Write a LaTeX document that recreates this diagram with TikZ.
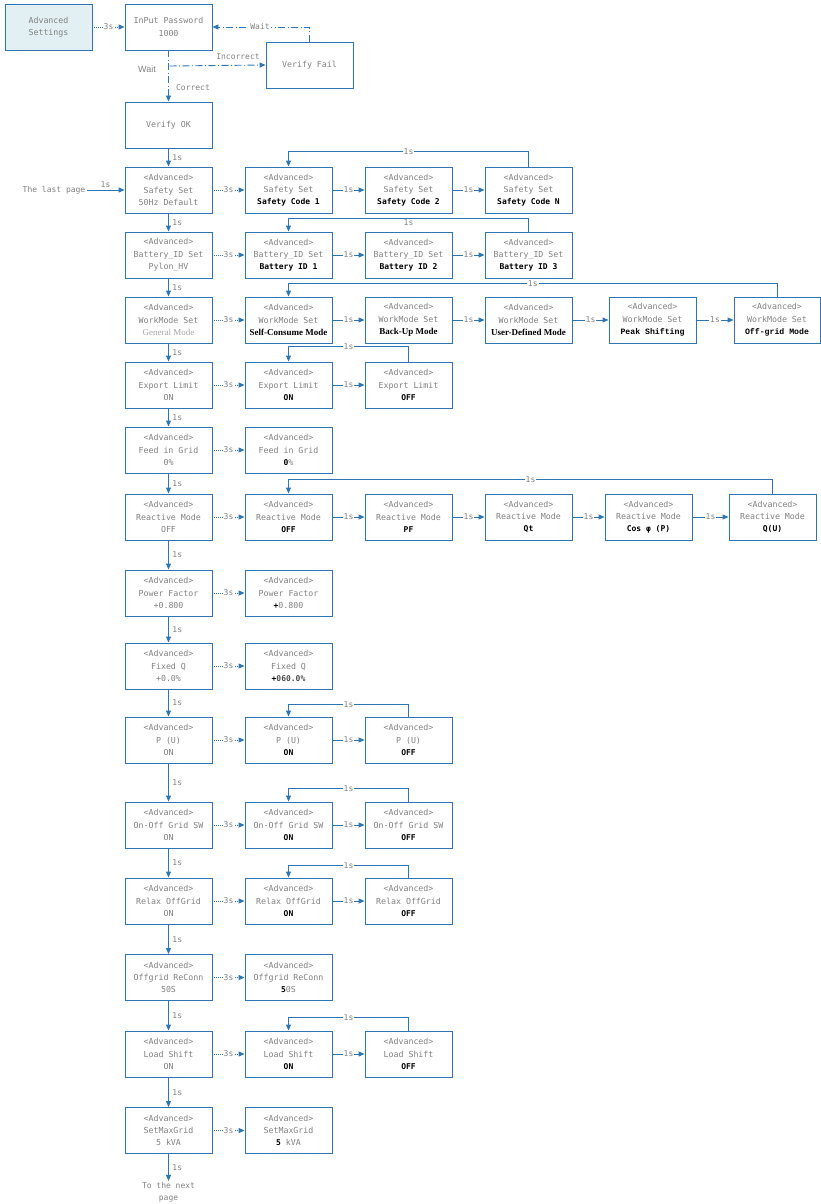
\documentclass[tikz,border=0pt]{standalone}
\usepackage{fontspec}
\setmainfont{DejaVu Sans Mono}
\newfontfamily\monof{DejaVu Sans Mono}
\newfontfamily\lmono{Liberation Mono}
\newfontfamily\serifb{Liberation Serif}
\newfontfamily\sansf{Liberation Sans}
\usetikzlibrary{arrows.meta,calc}
\definecolor{lblue}{RGB}{46,117,182}
\definecolor{tgray}{RGB}{128,128,128}
\definecolor{fillc}{RGB}{226,240,243}
\newcommand{\adv}{<Advanced>}
\newcommand{\bv}[1]{{\color{black}\monof\bfseries\fontsize{8}{12.3}\selectfont #1}}
\newcommand{\lv}[1]{{\color{black}\lmono\bfseries\fontsize{8.2}{12.3}\selectfont #1}}
\newcommand{\sv}[1]{{\color{black}\serifb\bfseries\fontsize{9}{12.3}\selectfont #1}}
\begin{document}
\begin{tikzpicture}[x=1pt,y=-1pt,
  box/.style={draw=lblue, line width=0.9pt, minimum width=87pt, minimum height=46pt, inner sep=0pt, align=center, text=tgray, font=\monof\fontsize{8.3}{12.3}\selectfont},
  conn/.style={draw=lblue, line width=0.9pt, -{Triangle[length=6pt,width=5pt]}},
  dconn/.style={conn, densely dotted},
  ddconn/.style={conn, dash pattern=on 7pt off 2.5pt on 1pt off 2.5pt},
  lbl/.style={fill=white, inner sep=1pt, text=tgray, font=\monof\fontsize{8}{9}\selectfont},
  rl/.style={anchor=west, inner sep=1pt, text=tgray, font=\monof\fontsize{8}{9}\selectfont},
  plain/.style={inner sep=1pt, text=tgray, font=\monof\fontsize{8}{12}\selectfont, align=center}]
\useasboundingbox (0,0) rectangle (821,1204);

% --- password section
\node[box, fill=fillc] (as) at (48.5,27) {Advanced\\Settings};
\node[box] (pw) at (168.5,27) {InPut Password\\1000};
\node[box] (vf) at (309.5,65) {Verify Fail};
\node[box] (ok) at (168.5,125) {Verify OK};
\coordinate (br) at (169.5,66);
\draw[dconn] (as) -- node[lbl]{3s} (pw);
\draw[ddconn] (pw.south) -- (ok.north);
\draw[ddconn] (br) -- (vf.west);
\node[plain] (incl) at (238,57) {Incorrect};
\draw[ddconn] (vf.north) |- node[pos=0.755, lbl]{Wait} (pw.east);
\node[inner sep=0pt, text=tgray, font=\sansf\fontsize{9}{10}\selectfont] (waitl) at (147,69) {Wait};
\node[plain] (corr) at (193,88) {Correct};

% --- main column
\node[box] (s0) at (168.5,190) {\adv\\Safety Set\\50Hz Default};
\node[box] (b0) at (168.5,255) {\adv\\Battery\_ID Set\\Pylon\_HV};
\node[box] (w0) at (168.5,320) {\adv\\WorkMode Set\\{\serifb\color{tgray!70}\fontsize{9}{12.3}\selectfont General Mode}};
\node[box] (e0) at (168.5,385) {\adv\\Export Limit\\ON};
\node[box] (f0) at (168.5,450) {\adv\\Feed in Grid\\0\%};
\node[box] (q0) at (168.5,517) {\adv\\Reactive Mode\\OFF};
\node[box] (p0) at (168.5,593) {\adv\\Power Factor\\+0.800};
\node[box] (z0) at (168.5,666) {\adv\\Fixed Q\\+0.0\%};
\node[box] (u0) at (168.5,740) {\adv\\P (U)\\ON};
\node[box] (o0) at (168.5,825) {\adv\\On-Off Grid SW\\ON};
\node[box] (x0) at (168.5,901) {\adv\\Relax OffGrid\\ON};
\node[box] (c0) at (168.5,977.5) {\adv\\Offgrid ReConn\\50S};
\node[box] (l0) at (168.5,1054) {\adv\\Load Shift\\ON};
\node[box] (g0) at (168.5,1130.5) {\adv\\SetMaxGrid\\5 kVA};
\node[plain] (np) at (168.5,1192) {To the next\\page};
\node[plain] (lp) at (54,190) {The last page};

\draw[conn] (lp.east) -- node[rl, anchor=south, fill=none, yshift=1pt]{1s} (s0.west);
\foreach \a/\b in {ok/s0,s0/b0,b0/w0,w0/e0,e0/f0,f0/q0,q0/p0,p0/z0,z0/u0,u0/o0,o0/x0,x0/c0,c0/l0,l0/g0,g0/np}
  \draw[conn] (\a.south) -- node[rl, xshift=2.5pt]{1s} (\b.north);

% --- safety row
\node[box] (s1) at (288.5,190) {\adv\\Safety Set\\\bv{Safety Code 1}};
\node[box] (s2) at (408.5,190) {\adv\\Safety Set\\\bv{Safety Code 2}};
\node[box] (s3) at (528.5,190) {\adv\\Safety Set\\\bv{Safety Code N}};
% --- battery row
\node[box] (b1) at (288.5,255) {\adv\\Battery\_ID Set\\\bv{Battery ID 1}};
\node[box] (b2) at (408.5,255) {\adv\\Battery\_ID Set\\\bv{Battery ID 2}};
\node[box] (b3) at (528.5,255) {\adv\\Battery\_ID Set\\\bv{Battery ID 3}};
% --- workmode row
\node[box] (w1) at (288.5,320) {\adv\\WorkMode Set\\\sv{Self-Consume Mode}};
\node[box] (w2) at (408.5,320) {\adv\\WorkMode Set\\\sv{Back-Up Mode}};
\node[box] (w3) at (528.5,320) {\adv\\WorkMode Set\\\sv{User-Defined Mode}};
\node[box] (w4) at (652.5,320) {\adv\\WorkMode Set\\\lv{Peak Shifting}};
\node[box, minimum width=86pt] (w5) at (777,320) {\adv\\WorkMode Set\\\lv{Off-grid Mode}};
% --- export row
\node[box] (e1) at (288.5,385) {\adv\\Export Limit\\\bv{ON}};
\node[box] (e2) at (408.5,385) {\adv\\Export Limit\\\bv{OFF}};
% --- feed row
\node[box] (f1) at (288.5,450) {\adv\\Feed in Grid\\\bv{0}\%};
% --- reactive row
\node[box] (q1) at (288.5,517) {\adv\\Reactive Mode\\\bv{OFF}};
\node[box] (q2) at (408.5,517) {\adv\\Reactive Mode\\\bv{PF}};
\node[box] (q3) at (528.5,517) {\adv\\Reactive Mode\\\bv{Qt}};
\node[box] (q4) at (648.5,517) {\adv\\Reactive Mode\\\bv{Cos φ (P)}};
\node[box] (q5) at (772.5,517) {\adv\\Reactive Mode\\\bv{Q(U)}};
% --- power factor / fixed Q
\node[box] (p1) at (288.5,593) {\adv\\Power Factor\\\bv{+}0.800};
\node[box] (z1) at (288.5,666) {\adv\\Fixed Q\\\bv{+}{\monof\bfseries\fontsize{8}{12.3}\selectfont\color{black!70}060.0\%}};
% --- P(U)
\node[box] (u1) at (288.5,740) {\adv\\P (U)\\\bv{ON}};
\node[box] (u2) at (408.5,740) {\adv\\P (U)\\\bv{OFF}};
% --- On-Off
\node[box] (o1) at (288.5,825) {\adv\\On-Off Grid SW\\\bv{ON}};
\node[box] (o2) at (408.5,825) {\adv\\On-Off Grid SW\\\bv{OFF}};
% --- Relax
\node[box] (x1) at (288.5,901) {\adv\\Relax OffGrid\\\bv{ON}};
\node[box] (x2) at (408.5,901) {\adv\\Relax OffGrid\\\bv{OFF}};
% --- Offgrid ReConn
\node[box] (c1) at (288.5,977.5) {\adv\\Offgrid ReConn\\\bv{5}0S};
% --- Load shift
\node[box] (l1) at (288.5,1054) {\adv\\Load Shift\\\bv{ON}};
\node[box] (l2) at (408.5,1054) {\adv\\Load Shift\\\bv{OFF}};
% --- SetMaxGrid
\node[box] (g1) at (288.5,1130.5) {\adv\\SetMaxGrid\\\bv{5} kVA};

% 3s arrows
\foreach \a/\b in {s0/s1,b0/b1,w0/w1,e0/e1,f0/f1,q0/q1,p0/p1,z0/z1,u0/u1,o0/o1,x0/x1,c0/c1,l0/l1,g0/g1}
  \draw[dconn] (\a) -- node[lbl]{3s} (\b);
% 1s arrows between settings
\foreach \a/\b in {s1/s2,s2/s3,b1/b2,b2/b3,w1/w2,w2/w3,w3/w4,w4/w5,e1/e2,q1/q2,q2/q3,q3/q4,q4/q5,u1/u2,o1/o2,x1/x2,l1/l2}
  \draw[conn] (\a) -- node[lbl]{1s} (\b);

% loop-backs
\draw[conn] (s3.north) -- ++(0,-15) -| node[pos=0.25,lbl]{1s} (s1.north);
\draw[conn] (b3.north) -- ++(0,-13) -| node[pos=0.25,below=0pt,lbl,fill=none]{1s} (b1.north);
\draw[conn] (w5.north) -- ++(0,-13) -| node[pos=0.25,lbl]{1s} (w1.north);
\draw[conn] (e2.north) -- ++(0,-15) -| node[pos=0.25,lbl]{1s} (e1.north);
\draw[conn] (q5.north) -- ++(0,-14) -| node[pos=0.25,lbl]{1s} (q1.north);
\draw[conn] (u2.north) -- ++(0,-12) -| node[pos=0.25,lbl]{1s} (u1.north);
\draw[conn] (o2.north) -- ++(0,-13) -| node[pos=0.25,lbl]{1s} (o1.north);
\draw[conn] (x2.north) -- ++(0,-12) -| node[pos=0.25,lbl]{1s} (x1.north);
\draw[conn] (l2.north) -- ++(0,-13) -| node[pos=0.25,lbl]{1s} (l1.north);
\end{tikzpicture}
\end{document}
